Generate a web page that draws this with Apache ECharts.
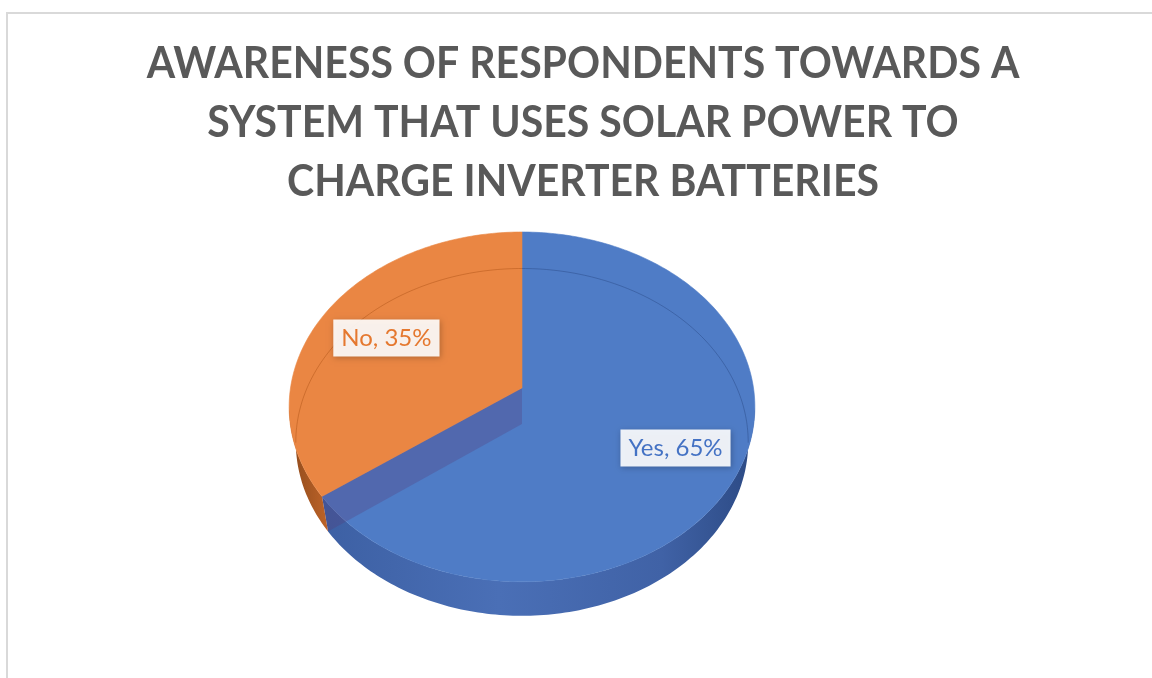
<!DOCTYPE html>
<html>
<head>
<meta charset="utf-8">
<script src="https://cdn.jsdelivr.net/npm/echarts@6/dist/echarts.min.js"></script>
<style>
  html, body { margin: 0; padding: 0; background: #ffffff; }
  #chart { width: 1152px; height: 678px; }
</style>
</head>
<body>
<div id="chart"></div>
<script>
// Chart text and values
const titleLines = [
  'AWARENESS OF RESPONDENTS TOWARDS A',
  'SYSTEM THAT USES SOLAR POWER TO',
  'CHARGE INVERTER BATTERIES'
];
const categories = ['Yes', 'No'];
const shares = [65, 35];

// Slice palette: top face, label text, side wall stops
const topColors = ['#4F7CC6', '#EA8643'];
const labelColors = ['#4472C4', '#E5782F'];

// Camera for the tilted 3D disc (unit radius, top face at y = 0)
const VIEW = { cx: 522, cy: 388, f: 1426, dist: 6.16, tilt: 48.3, depth: 0.24 };
const RAD = Math.PI / 180;
const sinT = Math.sin(VIEW.tilt * RAD);
const cosT = Math.cos(VIEW.tilt * RAD);

// Angle in degrees, clockwise from 12 o'clock
function project(angle, r, y) {
  const X = r * Math.sin(angle * RAD);
  const Z = r * Math.cos(angle * RAD);
  const yv = y * cosT + Z * sinT;
  const d = VIEW.dist + Z * cosT - y * sinT;
  return [VIEW.cx + VIEW.f * X / d, VIEW.cy - VIEW.f * yv / d];
}

function arc(a0, a1, y) {
  const pts = [];
  const n = Math.max(2, Math.ceil(Math.abs(a1 - a0)));
  for (let k = 0; k <= n; k++) pts.push(project(a0 + (a1 - a0) * k / n, 1, y));
  return pts;
}

// Angle where the rim turns from back to front
const silhouette = Math.acos(-cosT / VIEW.dist) / RAD;

const total = shares.reduce((a, b) => a + b, 0);
const startAngles = [];
let acc = 0;
shares.forEach(v => { startAngles.push(acc / total * 360); acc += v; });

const G = echarts.graphic.LinearGradient;
const sideFills = [
  new G(289, 0, 755, 0, [
    { offset: 0, color: '#3A5DA0' },
    { offset: 0.45, color: '#4A6FB6' },
    { offset: 0.8, color: '#4062A6' },
    { offset: 1, color: '#2C4A84' }
  ], true),
  new G(289, 0, 335, 0, [
    { offset: 0, color: '#8E4A1C' },
    { offset: 1, color: '#C6682A' }
  ], true)
];
const rimStrokes = ['rgba(40,70,130,0.45)', 'rgba(170,80,20,0.45)'];

function renderItem(params, api) {
  const i = params.dataIndex;
  const value = api.value(0);
  const a0 = startAngles[i];
  const a1 = a0 + value / total * 360;
  const H = -VIEW.depth;
  const children = [];

  // Outer side wall, front-facing part only
  const lo = Math.max(a0, silhouette);
  const hi = Math.min(a1, 360 - silhouette);
  if (hi > lo) {
    children.push({
      type: 'polygon',
      z2: 1,
      shape: { points: arc(lo, hi, 0).concat(arc(hi, lo, H)) },
      style: { fill: sideFills[i] }
    });
  }

  // Top face
  children.push({
    type: 'polygon',
    z2: 2,
    shape: { points: [project(0, 0, 0)].concat(arc(a0, a1, 0)) },
    style: { fill: topColors[i], stroke: topColors[i], lineWidth: 0.6 }
  });

  // Bottom rim behind the translucent top face
  const backRanges = [[Math.max(a0, 0), Math.min(a1, silhouette)],
                      [Math.max(a0, 360 - silhouette), Math.min(a1, 360)]];
  backRanges.forEach(([b0, b1]) => {
    if (b1 > b0) {
      children.push({
        type: 'polyline',
        z2: 3,
        shape: { points: arc(b0, b1, H) },
        style: { fill: null, stroke: rimStrokes[i], lineWidth: 1 }
      });
    }
  });

  // Radial cut walls that face the viewer, seen through the top face
  [[a0, -1], [a1, 1]].forEach(([a, s]) => {
    if (s * Math.sin(a * RAD) > 1e-6) {
      children.push({
        type: 'polygon',
        z2: 4,
        shape: { points: [project(a, 0, 0), project(a, 1, 0), project(a, 1, H), project(a, 0, H)] },
        style: { fill: 'rgba(85,60,120,0.3)' }
      });
    }
  });

  // Data label box
  const mid = (a0 + a1) / 2;
  const pos = project(mid, 0.7, 0);
  children.push({
    type: 'text',
    z2: 10,
    x: pos[0] + 4,
    y: pos[1] + 3,
    style: {
      text: categories[i] + ', ' + Math.round(value / total * 100) + '%',
      fill: labelColors[i],
      font: '400 24px Lato, "Open Sans", sans-serif',
      align: 'center',
      verticalAlign: 'middle',
      backgroundColor: 'rgba(255,255,255,0.9)',
      padding: [7, 8, 6, 8],
      shadowBlur: 6,
      shadowColor: 'rgba(0,0,0,0.25)',
      shadowOffsetX: 1,
      shadowOffsetY: 2
    }
  });

  return { type: 'group', children: children };
}

const chart = echarts.init(document.getElementById('chart'), null, { renderer: 'canvas' });
chart.setOption({
  animation: false,
  backgroundColor: '#ffffff',
  graphic: [{
    type: 'rect',
    silent: true,
    shape: { x: 7, y: 13, width: 1200, height: 700 },
    style: { fill: null, stroke: '#D9D9D9', lineWidth: 2 }
  }, {
    // Chart title, slightly condensed
    type: 'text',
    silent: true,
    x: 583,
    y: 34,
    scaleX: 0.932,
    style: {
      text: titleLines.join('\n'),
      font: 'bold 44px Lato, sans-serif',
      lineHeight: 59,
      fill: '#595959',
      align: 'center',
      verticalAlign: 'top'
    }
  }],
  series: [{
    type: 'custom',
    coordinateSystem: 'none',
    renderItem: renderItem,
    data: shares.map((v, i) => ({ name: categories[i], value: v }))
  }]
});
</script>
</body>
</html>
